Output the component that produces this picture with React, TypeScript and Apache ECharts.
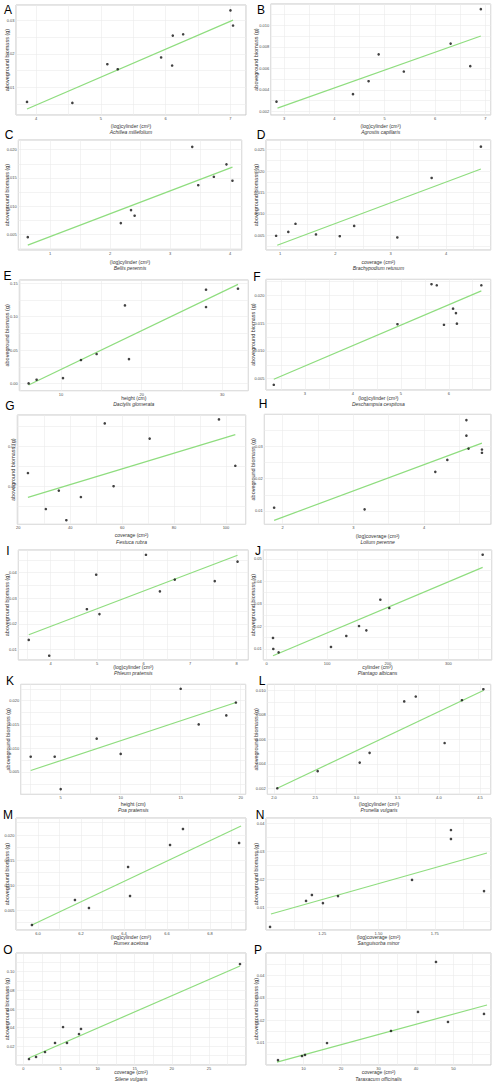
import React, { useEffect, useRef } from "react";
import * as echarts from "echarts";

// ---------- data ----------
const letters = ["A", "B", "C", "D", "E", "F", "G", "H", "I", "J", "K", "L", "M", "N", "O", "P"];
const xTitles = [
  "(log)cylinder (cm³)", "(log)cylinder (cm³)", "(log)cylinder (cm³)", "coverage (cm²)",
  "height (cm)", "(log)cylinder (cm³)", "coverage (cm²)", "(log)coverage (cm²)",
  "(log)cylinder (cm³)", "cylinder (cm³)", "height (cm)", "(log)cylinder (cm³)",
  "(log)cylinder (cm³)", "(log)coverage (cm²)", "coverage (cm²)", "coverage (cm²)",
];
const species = [
  "Achillea millefolium", "Agrostis capillaris", "Bellis perennis", "Brachypodium retusum",
  "Dactylis glomerata", "Deschampsia cespitosa", "Festuca rubra", "Lolium perenne",
  "Phleum pratensis", "Plantago albicans", "Poa pratensis", "Prunella vulgaris",
  "Rumex acetosa", "Sanguisorba minor", "Silene vulgaris", "Taraxacum officinalis",
];
const yTitle = "aboveground biomass (g)";

// axis ranges: [min, max, major step]
const xRanges = [
  [3.69, 7.24, 1], [2.735, 7.106, 1], [0.472, 4.194, 1], [0.747, 4.807, 1],
  [4.835, 33.22, 10], [2.1875, 6.875, 1], [19.6, 107.6, 20], [1.741, 4.948, 1],
  [3.305, 8.251, 1], [-5.5, 371.5, 100], [1.667, 20.417, 5], [1.919, 4.629, 0.5],
  [5.898, 6.967, 0.2], [1.0, 2.0, 0.25], [-1, 30, 5], [0, 60, 10],
];
const yRanges = [
  [0.0018, 0.0345, 0.01], [0.00166, 0.01198, 0.002], [0.00223, 0.02171, 0.005], [0.00158, 0.02726, 0.005],
  [-0.0104, 0.1545, 0.05], [0.00296, 0.02288, 0.005], [0.00058, 0.0279, 0.01], [0.00588, 0.0399, 0.01],
  [0.00583, 0.04887, 0.01], [0.00511, 0.054, 0.01], [0.0003, 0.02344, 0.005], [0.00151, 0.0105, 0.002],
  [0.001, 0.0234, 0.005], [0.002, 0.042, 0.01], [0, 0.12, 0.02], [0, 0.05, 0.01],
];

const ptsA = [[3.86, 0.0057], [4.56, 0.0054], [5.10, 0.0169], [5.26, 0.0154], [5.93, 0.0189], [6.10, 0.0165], [6.11, 0.0254], [6.27, 0.0258], [7.00, 0.0329], [7.04, 0.0284]];
const fitA = [[3.86, 0.0036], [7.04, 0.0300]];
const ptsB = [[2.85, 0.0029], [4.37, 0.0036], [4.68, 0.0048], [4.88, 0.0073], [5.38, 0.0057], [6.31, 0.0083], [6.70, 0.0062], [6.91, 0.0115]];
const fitB = [[2.87, 0.0023], [6.91, 0.0090]];
const ptsC = [[0.63, 0.0045], [2.18, 0.0070], [2.35, 0.0093], [2.41, 0.0083], [3.37, 0.0205], [3.47, 0.0137], [3.73, 0.0152], [3.94, 0.0174], [4.04, 0.0145]];
const fitC = [[0.63, 0.0031], [4.04, 0.0169]];
const ptsD = [[0.93, 0.0049], [1.15, 0.0058], [1.28, 0.0077], [1.65, 0.0052], [2.08, 0.0048], [2.34, 0.0072], [3.12, 0.0045], [3.74, 0.0184], [4.63, 0.0257]];
const fitD = [[0.95, 0.0027], [4.63, 0.0205]];
const ptsE = [[5.99, 0.0005], [6.98, 0.0060], [10.25, 0.0084], [12.48, 0.0353], [14.42, 0.0442], [17.93, 0.1167], [18.43, 0.0367], [27.98, 0.1400], [27.98, 0.1142], [31.94, 0.1415]];
const fitE = [[5.99, -0.0020], [31.94, 0.1480]];
const ptsF = [[2.35, 0.0039], [4.93, 0.0148], [5.64, 0.0220], [5.75, 0.0218], [5.90, 0.0147], [6.09, 0.0176], [6.15, 0.0168], [6.17, 0.0149], [6.68, 0.0218]];
const fitF = [[2.35, 0.0049], [6.68, 0.0208]];
const ptsG = [[23.7, 0.0134], [30.6, 0.0044], [35.6, 0.0090], [38.5, 0.0016], [44.1, 0.0074], [53.3, 0.0258], [56.7, 0.0101], [70.6, 0.0220], [97.3, 0.0268], [103.6, 0.0152]];
const fitG = [[23.7, 0.0073], [103.6, 0.0230]];
const ptsH = [[1.88, 0.0110], [3.16, 0.0105], [4.16, 0.0221], [4.33, 0.0258], [4.60, 0.0381], [4.60, 0.0333], [4.63, 0.0293], [4.82, 0.0290], [4.82, 0.0280]];
const fitH = [[1.88, 0.0071], [4.82, 0.0310]];
const ptsI = [[3.53, 0.0137], [3.97, 0.0075], [4.78, 0.0257], [4.98, 0.0392], [5.05, 0.0238], [6.05, 0.0470], [6.35, 0.0327], [6.67, 0.0373], [7.53, 0.0367], [8.02, 0.0443]];
const fitI = [[3.53, 0.0157], [8.02, 0.0468]];
const ptsJ = [[10.5, 0.0149], [11.0, 0.0100], [19.8, 0.0085], [106.2, 0.0109], [131.5, 0.0158], [152.5, 0.0202], [164.6, 0.0183], [187.7, 0.0319], [202.5, 0.0282], [356.6, 0.0519]];
const fitJ = [[10.5, 0.0070], [356.6, 0.0463]];
const ptsK = [[2.5, 0.0082], [4.5, 0.0082], [5.0, 0.0014], [8.0, 0.0120], [10.0, 0.0088], [15.0, 0.0225], [16.5, 0.0150], [18.8, 0.0169], [19.6, 0.0196]];
const fitK = [[2.5, 0.0053], [19.6, 0.0196]];
const ptsL = [[2.04, 0.0020], [2.53, 0.0034], [3.04, 0.0041], [3.16, 0.0049], [3.58, 0.0091], [3.72, 0.0095], [4.07, 0.0057], [4.28, 0.0092], [4.54, 0.0101]];
const fitL = [[2.04, 0.0020], [4.54, 0.0100]];
const ptsM = [[5.972, 0.0020], [6.172, 0.0070], [6.237, 0.0054], [6.419, 0.0136], [6.428, 0.0078], [6.614, 0.0180], [6.674, 0.0212], [6.935, 0.0184]];
const fitM = [[5.972, 0.0020], [6.944, 0.0218]];
const ptsN = [[1.018, 0.0031], [1.178, 0.0124], [1.204, 0.0145], [1.253, 0.0116], [1.32, 0.0141], [1.649, 0.0199], [1.822, 0.0377], [1.822, 0.0345], [1.969, 0.0159]];
const fitN = [[1.022, 0.0077], [1.982, 0.0295]];
const ptsO = [[0.75, 0.0064], [1.70, 0.0086], [2.91, 0.0139], [4.26, 0.0236], [5.34, 0.0407], [5.87, 0.0236], [7.49, 0.0332], [7.76, 0.0386], [29.19, 0.1082]];
const fitO = [[0.75, 0.0075], [29.19, 0.1061]];
const ptsP = [[3.2, 0.0022], [9.6, 0.0040], [10.4, 0.0045], [16.27, 0.0098], [33.33, 0.0152], [40.53, 0.0237], [45.33, 0.0460], [48.53, 0.0192], [58.13, 0.0228]];
const fitP = [[2.93, 0.0013], [58.93, 0.0268]];

const allPts = [ptsA, ptsB, ptsC, ptsD, ptsE, ptsF, ptsG, ptsH, ptsI, ptsJ, ptsK, ptsL, ptsM, ptsN, ptsO, ptsP];
const allFits = [fitA, fitB, fitC, fitD, fitE, fitF, fitG, fitH, fitI, fitJ, fitK, fitL, fitM, fitN, fitO, fitP];

// ---------- layout (pixels) ----------
const boxes = [
  [16, 5, 230, 110], [270.7, 4, 220, 111],
  [18.3, 140, 223.4, 110], [266, 140, 224.7, 110],
  [19.3, 280, 229, 110.7], [266, 279.3, 224.7, 110.7],
  [17.3, 415, 228.4, 109.3], [264.3, 414.3, 226.7, 110],
  [18.3, 550, 230, 110], [263.3, 550, 228.4, 110],
  [20.7, 684.3, 225, 110], [267.3, 684.3, 223.4, 110],
  [16, 818, 230, 112], [266, 818, 225, 112],
  [16, 953, 230, 112], [266, 953, 225, 112],
];
const letterPos = [
  [8, 10], [261, 10], [9, 135], [261, 135], [7.5, 276], [257, 276.5], [10, 406], [263, 404],
  [8, 551], [258, 551], [10, 681], [262, 681], [8, 815], [260, 815], [8, 950], [258, 950],
];
const xtY = [125.7, 126, 262.3, 261.7, 398.3, 398.3, 535, 536, 667, 667, 804.3, 804.3, 937, 937, 1072, 1072];
const spY = [131.7, 131.7, 268.3, 267.7, 403.8, 403.8, 541.7, 541.7, 673, 673, 810, 810, 943, 943, 1079, 1079];
const ytX = [6.7, 256, 6.7, 256, 7.3, 252.7, 12.7, 253.3, 7.3, 253.3, 8.3, 256, 7, 256, 7, 256];

const FONT = "Liberation Sans, Arial, sans-serif";

function decimals(step: number) {
  const s = String(step);
  const i = s.indexOf(".");
  return i < 0 ? 0 : s.length - i - 1;
}

function makeAxis(r: number[], idx: number) {
  const [min, max, step] = r;
  const dec = decimals(step);
  return {
    type: "value",
    gridIndex: idx,
    min,
    max,
    minInterval: step / 2,
    maxInterval: step / 2,
    splitNumber: 10,
    axisLine: { show: false },
    axisTick: { show: false },
    axisLabel: {
      show: true,
      fontSize: 4,
      color: "#4d4d4d",
      fontFamily: FONT,
      margin: 1.5,
      showMinLabel: false,
      showMaxLabel: false,
      formatter: (v: number) => {
        const k = v / step;
        return Math.abs(k - Math.round(k)) < 1e-6 ? v.toFixed(dec) : "";
      },
    },
    splitLine: { show: true, lineStyle: { color: "#ebebeb", width: 0.6 } },
  };
}

export default function App() {
  const ref = useRef<HTMLDivElement>(null);
  useEffect(() => {
    document.body.style.margin = "0";
    if (!ref.current) return;
    const chart = echarts.init(ref.current, undefined, { renderer: "svg" });
    const grid: any[] = [];
    const xAxis: any[] = [];
    const yAxis: any[] = [];
    const series: any[] = [];
    const graphic: any[] = [];
    letters.forEach((L, i) => {
      const [l, t, w, h] = boxes[i];
      grid.push({ left: l, top: t, width: w, height: h, show: true, borderColor: "#c6c6c6", borderWidth: 1, containLabel: false });
      xAxis.push(makeAxis(xRanges[i], i));
      yAxis.push(makeAxis(yRanges[i], i));
      series.push({
        type: "line", xAxisIndex: i, yAxisIndex: i, data: allFits[i], symbol: "none", silent: true,
        lineStyle: { color: "#8fdd7f", width: 1.2 }, z: 2,
      });
      series.push({
        type: "scatter", xAxisIndex: i, yAxisIndex: i, data: allPts[i], symbolSize: 2.6, silent: true,
        itemStyle: { color: "#111111" }, z: 3,
      });
      graphic.push({
        type: "text", x: letterPos[i][0], y: letterPos[i][1],
        style: { text: L, fontSize: 12, fontFamily: FONT, fill: "#000", align: "center", verticalAlign: "middle" },
      });
      const cx = l + w / 2;
      graphic.push({
        type: "text", x: cx, y: xtY[i],
        style: { text: xTitles[i], fontSize: 5, fontFamily: FONT, fill: "#333", align: "center", verticalAlign: "middle" },
      });
      graphic.push({
        type: "text", x: cx, y: spY[i],
        style: { text: species[i], fontSize: 5, fontStyle: "italic", fontFamily: FONT, fill: "#333", align: "center", verticalAlign: "middle" },
      });
      graphic.push({
        type: "text", x: ytX[i], y: t + h / 2, rotation: Math.PI / 2,
        style: { text: yTitle, fontSize: 5.5, fontFamily: FONT, fill: "#333", align: "center", verticalAlign: "middle" },
      });
    });
    chart.setOption({
      animation: false,
      backgroundColor: "#ffffff",
      grid, xAxis, yAxis, series, graphic,
    });
    return () => chart.dispose();
  }, []);
  return <div ref={ref} style={{ width: 500, height: 1089 }} />;
}
